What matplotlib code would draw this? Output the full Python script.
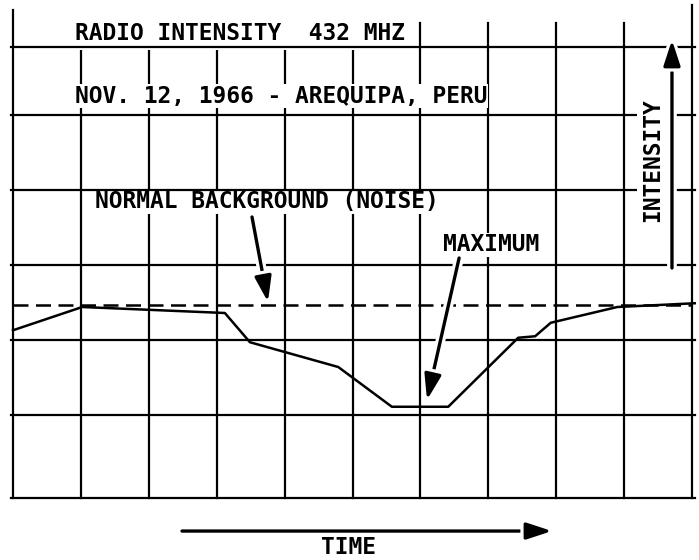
import matplotlib
matplotlib.use("Agg")
import matplotlib.pyplot as plt
import matplotlib.patheffects as pe

# trace (x = grid columns, y = grid rows from the bottom)
time_pts = [0.0, 1.02, 3.12, 3.49, 4.79, 5.58, 6.41, 7.44, 7.69, 7.92, 8.90, 10.04]
intensity = [2.13, 2.44, 2.36, 1.97, 1.64, 1.11, 1.11, 2.03, 2.05, 2.23, 2.44, 2.49]
background = 2.47

title_1 = "RADIO INTENSITY  432 MHZ"
title_2 = "NOV. 12, 1966 - AREQUIPA, PERU"
label_bg = "NORMAL BACKGROUND (NOISE)"
label_max = "MAXIMUM"
label_y = "INTENSITY"
label_x = "TIME"

fig = plt.figure(figsize=(6.99, 5.60), dpi=100)
ax = fig.add_axes([0, 0, 1, 1])
ax.set_xlim(-0.1915, 10.103)
ax.set_ylim(-0.933, 6.533)
ax.axis("off")

ink = "black"
glw = 1.6
bottom = -0.107

# chart paper grid
for xv in range(1, 10):
    ax.plot([xv, xv], [bottom, 6.22], color=ink, lw=glw, zorder=1)
ax.plot([0, 0], [bottom, 6.4], color=ink, lw=glw, zorder=1)
ax.plot([10, 10], [bottom, 6.47], color=ink, lw=glw, zorder=1)
for yv in [bottom, 1, 2, 3, 4, 5, 5.9]:
    ax.plot([-0.03, 10.05], [yv, yv], color=ink, lw=glw, zorder=3)

ax.plot([0, 10], [background, background], color=ink, lw=1.8,
        dashes=(6, 3), zorder=4)
ax.plot(time_pts, intensity, color=ink, lw=1.8, zorder=4, clip_on=False)

font = dict(family="DejaVu Sans Mono", weight="bold", size=16.5, color=ink)
mask = dict(facecolor="white", edgecolor="none", pad=0.5)
big_mask = dict(facecolor="white", edgecolor="none", pad=4)

ax.text(0.913, 6.093, title_1, ha="left", va="center", zorder=2, bbox=big_mask, **font)
ax.text(0.913, 5.253, title_2, ha="left", va="center", zorder=2, bbox=mask, **font)
ax.text(1.208, 3.84, label_bg, ha="left", va="center", zorder=2, bbox=mask, **font)
ax.text(6.333, 3.267, label_max, ha="left", va="center", zorder=5, bbox=mask, **font)
ax.text(9.426, 4.4, label_y, ha="center", va="center", rotation=90, zorder=5,
        bbox=dict(facecolor="white", edgecolor="none", pad=3), **font)
ax.text(4.934, -0.773, label_x, ha="center", va="center", zorder=5, **font)

halo = [pe.withStroke(linewidth=7, foreground="white")]
arrow = dict(arrowstyle="-|>,head_length=0.55,head_width=0.18", color=ink,
             lw=2.4, mutation_scale=28, shrinkA=0, shrinkB=0)


def draw_arrow(start, tip):
    a = ax.annotate("", xy=tip, xytext=start, arrowprops=arrow,
                    annotation_clip=False, zorder=6)
    a.arrow_patch.set_path_effects(halo)


draw_arrow((3.52, 3.64), (3.755, 2.507))
draw_arrow((6.57, 3.093), (6.097, 1.2))
draw_arrow((9.705, 2.96), (9.705, 6.0))
draw_arrow((2.489, -0.547), (7.938, -0.547))

fig.savefig("out.png", dpi=100, facecolor="white")
